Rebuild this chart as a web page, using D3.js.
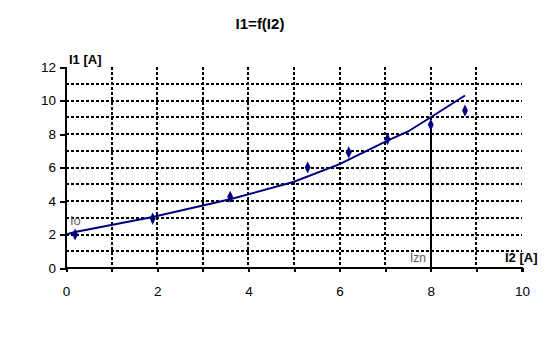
<!DOCTYPE html>
<html>
<head>
<meta charset="utf-8">
<script src="https://cdn.jsdelivr.net/npm/d3@7"></script>
<style>
  body { margin: 0; background: #fff; }
  text { font-family: "Liberation Sans", Arial, sans-serif; }
</style>
</head>
<body>
<svg width="545" height="341"></svg>
<script>
// measured points
var i2 = [0.2, 1.9, 3.6, 5.3, 6.2, 7.05, 8.0, 8.75];
var i1 = [2.0, 2.95, 4.25, 6.0, 6.9, 7.7, 8.55, 9.4];

// trend line drawn through the points
var trendX = [0, 0.2, 1.9, 3.6, 5.0, 6.0, 7.05, 7.5, 8.0, 8.75];
var trendY = [2.0, 2.15, 3.05, 4.1, 5.15, 6.2, 7.6, 8.15, 9.0, 10.3];

var xTicks = [0, 2, 4, 6, 8, 10];
var yTicks = [0, 2, 4, 6, 8, 10, 12];
var izn = 8.0;

var svg = d3.select("svg");
var navy = "#000080";

var x = d3.scaleLinear().domain([0, 10]).range([66, 522]);
var y = d3.scaleLinear().domain([0, 12]).range([268, 67]);
var rx = d => Math.round(x(d)), ry = d => Math.round(y(d));

// title
svg.append("text")
  .attr("x", 260).attr("y", 29)
  .attr("text-anchor", "middle")
  .attr("font-size", "15px").attr("font-weight", "bold")
  .text("I1=f(I2)");

// dashed grid
var grid = svg.append("g").attr("stroke", "#000").attr("stroke-width", 2)
  .attr("stroke-dasharray", "3,2").attr("shape-rendering", "crispEdges");
grid.selectAll(".h").data(d3.range(1, 12))
  .enter().append("line")
  .attr("x1", rx(0)).attr("x2", rx(10))
  .attr("y1", d => ry(d)).attr("y2", d => ry(d));
grid.selectAll(".v").data(d3.range(1, 10))
  .enter().append("line")
  .attr("x1", d => rx(d)).attr("x2", d => rx(d))
  .attr("y1", ry(12)).attr("y2", ry(0));

// axes
var xAxis = svg.append("g")
  .attr("transform", "translate(0," + ry(0) + ")")
  .call(d3.axisBottom(x).tickValues(d3.range(0, 11)).tickSize(4)
    .tickFormat(d => xTicks.includes(d) ? d : ""));
var yAxis = svg.append("g")
  .attr("transform", "translate(" + rx(0) + ",0)")
  .call(d3.axisLeft(y).tickValues(yTicks).tickSize(6).tickPadding(4));

[xAxis, yAxis].forEach(function (a) {
  a.attr("shape-rendering", "crispEdges");
  a.select(".domain").attr("stroke", "#000").attr("stroke-width", 2.5);
  a.selectAll(".tick line").attr("stroke", "#000").attr("stroke-width", 2);
  a.selectAll("text").attr("font-size", "13.5px").attr("fill", "#000")
    .style("font-family", "Liberation Sans, Arial, sans-serif");
});
xAxis.select(".domain").attr("d", "M" + rx(0) + ",0H" + rx(10) + "V4");
yAxis.select(".domain").attr("d", "M0," + ry(12) + "V" + ry(0));
xAxis.selectAll("text").attr("dy", "1.55em");

// axis titles
svg.append("text").attr("x", 69).attr("y", 64)
  .attr("font-size", "13px").attr("font-weight", "bold").text("I1  [A]");
svg.append("text").attr("x", 505).attr("y", 262)
  .attr("font-size", "13px").attr("font-weight", "bold").text("I2  [A]");

// Izn marker line
svg.append("line")
  .attr("x1", rx(izn)).attr("x2", rx(izn))
  .attr("y1", y(i1[6])).attr("y2", ry(0))
  .attr("stroke", "#000").attr("stroke-width", 2).attr("shape-rendering", "crispEdges");
svg.append("rect").attr("x", 408).attr("y", 253).attr("width", 22).attr("height", 12).attr("fill", "#fff");
svg.append("text").attr("x", 410).attr("y", 262)
  .attr("font-size", "12px").attr("fill", "#555").text("Izn");

// Io label
svg.append("text").attr("x", 70).attr("y", 225)
  .attr("font-size", "13px").attr("fill", "#666").text("Io");

// trend line
var line = d3.line().x((d, i) => x(trendX[i])).y(d => y(d));
svg.append("path")
  .datum(trendY)
  .attr("d", line)
  .attr("fill", "none")
  .attr("stroke", navy)
  .attr("stroke-width", 2);

// measured points
svg.selectAll(".pt")
  .data(i2)
  .enter()
  .append("path")
  .attr("transform", (d, i) => "translate(" + x(d) + "," + y(i1[i]) + ") scale(1,1.2)")
  .attr("d", d3.symbol().type(d3.symbolDiamond).size(30))
  .attr("fill", navy);
</script>
</body>
</html>
